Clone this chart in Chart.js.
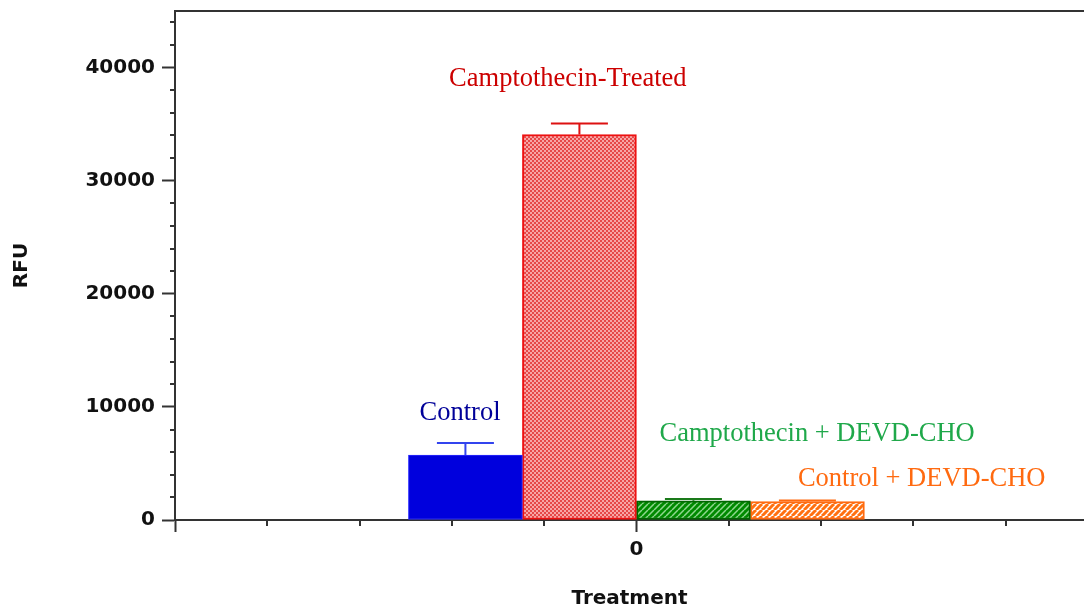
<!DOCTYPE html>
<html>
<head>
<meta charset="utf-8">
<script src="https://cdn.jsdelivr.net/npm/chart.js@4.4.1/dist/chart.umd.min.js"></script>
<style>
  html, body { margin: 0; padding: 0; background: #fff; overflow: hidden; }
</style>
</head>
<body>
<canvas id="rfuChart" width="1084" height="609"></canvas>
<script>
// Data
const treatments = ['Control', 'Camptothecin-Treated', 'Camptothecin + DEVD-CHO', 'Control + DEVD-CHO'];
const treatmentX = 0;                      // all groups sit on treatment 0
const rfuValues = [5740, 34080, 1700, 1620];
const rfuErrors = [1060, 970, 150, 100];

// Tick values
const yTicks = [0, 10000, 20000, 30000, 40000];
const xTicks = [-5, 0];
const xLabelled = [0];

// Colours for each group
const borderColors = ['#2a2aff', '#ee1111', '#006600', '#ff6a10'];
const errorColors = ['#3344ee', '#dd1111', '#1a7a1a', '#ff6a10'];
const labelColors = ['#000099', '#cc0000', '#1fa84a', '#ff6a10'];

// Where the text labels sit (x in treatment units, y in RFU)
const labelAnchors = [[-2.35, 8830], [-2.03, 38410], [0.25, 6975], [1.75, 3000]];

const axisColor = '#333333';
const tickFont = { family: 'DejaVu Sans', weight: 'bold', size: 20 };

// Small helper to build a fill pattern
function makePattern(size, draw) {
    const c = document.createElement('canvas');
    c.width = size;
    c.height = size;
    const g = c.getContext('2d');
    draw(g, size);
    return g.createPattern(c, 'repeat');
}

// Red checker pattern
const redChecker = makePattern(4, (g) => {
    g.fillStyle = '#f7a6a6';
    g.fillRect(0, 0, 4, 4);
    g.fillStyle = '#e64848';
    g.fillRect(0, 0, 2, 2);
    g.fillRect(2, 2, 2, 2);
});

// Diagonal hatch patterns
function hatch(bg, line, width) {
    return makePattern(6, (g, s) => {
        g.fillStyle = bg;
        g.fillRect(0, 0, s, s);
        g.strokeStyle = line;
        g.lineWidth = width;
        g.beginPath();
        for (let k = -1; k <= 1; k++) {
            g.moveTo(k * s, s);
            g.lineTo(k * s + s, 0);
        }
        g.stroke();
    });
}
const greenHatch = hatch('#008a00', '#8fd68f', 1.5);
const orangeHatch = hatch('#ffffff', '#ff7010', 3);

const fills = ['#0000dd', redChecker, greenHatch, orangeHatch];

// Error bars, minor ticks and the bar labels
const extrasPlugin = {
    id: 'extras',
    afterDatasetsDraw(chart) {
        const ctx = chart.ctx;
        const xs = chart.scales.x;
        const ys = chart.scales.y;
        const area = chart.chartArea;

        // error bars
        chart.data.datasets.forEach((ds, i) => {
            const bar = chart.getDatasetMeta(i).data[0];
            const top = ys.getPixelForValue(rfuValues[i] + rfuErrors[i]);
            const half = bar.width / 4;
            ctx.save();
            ctx.strokeStyle = errorColors[i];
            ctx.lineWidth = 2;
            ctx.beginPath();
            ctx.moveTo(bar.x, bar.y);
            ctx.lineTo(bar.x, top);
            ctx.moveTo(bar.x - half, top);
            ctx.lineTo(bar.x + half, top);
            ctx.stroke();
            ctx.restore();
        });

        // minor ticks
        ctx.save();
        ctx.strokeStyle = axisColor;
        ctx.lineWidth = 2;
        ctx.beginPath();
        for (let v = 2000; v < ys.max; v += 2000) {
            if (v % 10000 === 0) continue;
            const py = Math.round(ys.getPixelForValue(v));
            ctx.moveTo(area.left - 5, py);
            ctx.lineTo(area.left, py);
        }
        for (let v = -4; v <= 4; v++) {
            if (v === 0) continue;
            const px = Math.round(xs.getPixelForValue(v));
            ctx.moveTo(px, area.bottom);
            ctx.lineTo(px, area.bottom + 6);
        }
        ctx.stroke();
        ctx.restore();
    },
    afterDraw(chart) {
        const ctx = chart.ctx;
        const xs = chart.scales.x;
        const ys = chart.scales.y;
        ctx.save();
        ctx.font = '26.5px "Liberation Serif"';
        ctx.textAlign = 'left';
        ctx.textBaseline = 'alphabetic';
        treatments.forEach((name, i) => {
            ctx.fillStyle = labelColors[i];
            ctx.fillText(name, xs.getPixelForValue(labelAnchors[i][0]), ys.getPixelForValue(labelAnchors[i][1]));
        });
        ctx.restore();
    }
};

// One dataset per treatment group, grouped around x = 0
const datasets = treatments.map((name, i) => ({
    label: name,
    data: [{ x: treatmentX, y: rfuValues[i] }],
    backgroundColor: fills[i],
    borderColor: borderColors[i],
    borderWidth: i === 0 ? 1 : 2,
    borderSkipped: false,
    barThickness: 114
}));

const ctx = document.getElementById('rfuChart').getContext('2d');
const rfuChart = new Chart(ctx, {
    type: 'bar',
    data: { datasets: datasets },
    options: {
        responsive: false,
        animation: false,
        devicePixelRatio: 1,
        layout: { padding: 0 },
        plugins: {
            legend: { display: false },
            tooltip: { enabled: false }
        },
        scales: {
            x: {
                type: 'linear',
                position: 'bottom',
                min: -5,
                max: 4.85,
                offset: false,
                afterFit: (scale) => {
                    scale.height = 89;
                    scale.paddingLeft = 0;
                    scale.paddingRight = 0;
                },
                afterBuildTicks: (scale) => { scale.ticks = xTicks.map(v => ({ value: v })); },
                ticks: {
                    autoSkip: false,
                    maxRotation: 0,
                    padding: 6,
                    color: '#111',
                    font: tickFont,
                    callback: (v) => (xLabelled.includes(v) ? String(v) : '')
                },
                grid: {
                    offset: false,
                    drawOnChartArea: false,
                    tickLength: 12,
                    tickColor: axisColor,
                    tickWidth: 2
                },
                border: { color: axisColor, width: 2 },
                title: {
                    display: true,
                    text: 'Treatment',
                    color: '#111',
                    font: { family: 'DejaVu Sans', weight: 'bold', size: 20, lineHeight: 1 },
                    padding: 0
                }
            },
            xTop: {
                type: 'linear',
                position: 'top',
                offset: false,
                afterFit: (scale) => { scale.height = 11; },
                ticks: { display: false },
                grid: { offset: false, drawOnChartArea: false, drawTicks: false },
                border: { color: axisColor, width: 2 }
            },
            y: {
                min: 0,
                max: 45000,
                afterFit: (scale) => {
                    scale.width = 175;
                    scale.paddingTop = 0;
                    scale.paddingBottom = 0;
                },
                afterBuildTicks: (scale) => { scale.ticks = yTicks.map(v => ({ value: v })); },
                ticks: {
                    padding: 7,
                    color: '#111',
                    font: tickFont,
                    callback: (v) => String(v)
                },
                grid: {
                    drawOnChartArea: false,
                    tickLength: 13,
                    tickColor: axisColor,
                    tickWidth: 2
                },
                border: { color: axisColor, width: 2 },
                title: {
                    display: true,
                    text: 'RFU',
                    color: '#111',
                    font: { family: 'DejaVu Sans', weight: 'bold', size: 20, lineHeight: 1.2 },
                    padding: { top: 10, bottom: 0 }
                }
            }
        }
    },
    plugins: [extrasPlugin]
});
</script>
</body>
</html>
